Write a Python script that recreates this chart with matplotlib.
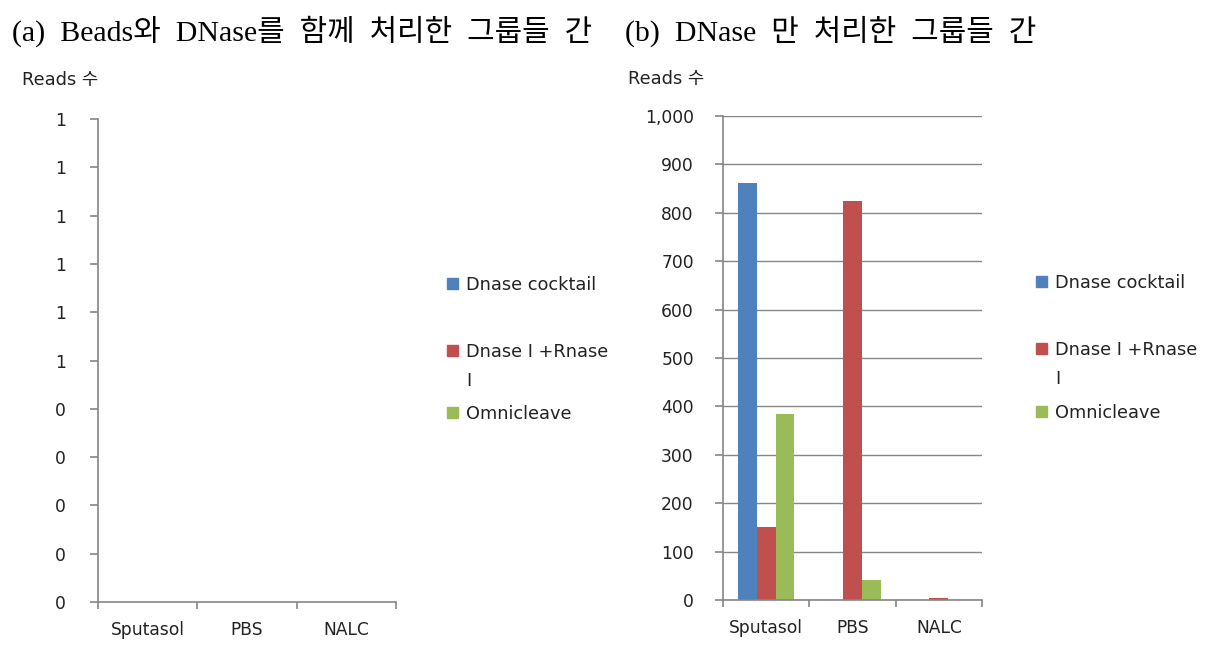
#%% Reads comparison chart (two panels, Excel-style)
import numpy as np
import matplotlib
matplotlib.use("Agg")
import matplotlib.pyplot as plt
from matplotlib.patches import Rectangle
from matplotlib.ticker import FuncFormatter, FixedLocator

#%% Data
categories = ['Sputasol', 'PBS', 'NALC']
series_names = ['Dnase cocktail', 'Dnase I +Rnase\nI', 'Omnicleave']
colors = ['#4F81BD', '#C0504D', '#9BBB59']

# panel (a): no reads shown
a_cocktail = [0, 0, 0]
a_dnase_rnase = [0, 0, 0]
a_omnicleave = [0, 0, 0]

# panel (b)
b_cocktail = [861, 0, 0]
b_dnase_rnase = [150, 825, 5]
b_omnicleave = [384, 41, 0]

a_yticks = [0, 0.1, 0.2, 0.3, 0.4, 0.5, 0.6, 0.7, 0.8, 0.9, 1.0]
b_yticks = [0, 100, 200, 300, 400, 500, 600, 700, 800, 900, 1000]

title_a = '(a)  Beads와  DNase를  함께  처리한  그룹들  간'
title_b = '(b)  DNase  만  처리한  그룹들  간'
ylab = 'Reads 수'

#%% Figure
sans = ['DejaVu Sans', 'Noto Sans CJK KR']
serif = ['Liberation Serif', 'Noto Sans CJK KR']
plt.rcParams['font.family'] = sans
W, H = 1209, 649
fig = plt.figure(figsize=(W / 100, H / 100), dpi=100)
fig.patch.set_facecolor('white')
grey = '#868686'
txt = '#222222'


def px(x0, y0, x1, y1):
    return [x0 / W, 1 - y1 / H, (x1 - x0) / W, (y1 - y0) / H]


def draw_panel(rect, values, yticks, fmt, grid, pad):
    ax = fig.add_axes(rect)
    x = np.arange(len(categories))
    w = 0.217
    for i, vals in enumerate(values):
        ax.bar(x + (i - 1) * w, vals, width=w, color=colors[i], linewidth=0, zorder=3)
    ax.set_xlim(-0.5, len(categories) - 0.5)
    ax.set_ylim(yticks[0], yticks[-1])
    ax.set_yticks(yticks)
    ax.yaxis.set_major_formatter(FuncFormatter(fmt))
    ax.xaxis.set_major_locator(FixedLocator(np.arange(len(categories) + 1) - 0.5))
    ax.xaxis.set_major_formatter(FuncFormatter(lambda v, p: ''))
    ax.xaxis.set_minor_locator(FixedLocator(x))
    ax.set_xticklabels(categories, minor=True)
    ax.tick_params(axis='x', which='minor', length=0, pad=14, labelsize=12.3, labelcolor=txt)
    ax.tick_params(axis='x', which='major', length=5, color=grey, width=1.2)
    ax.tick_params(axis='y', length=6, color=grey, width=1.2, pad=pad, labelsize=12.3,
                   labelcolor=txt)
    for s in ['top', 'right']:
        ax.spines[s].set_visible(False)
    for s in ['left', 'bottom']:
        ax.spines[s].set_color(grey)
        ax.spines[s].set_linewidth(1.2)
        ax.spines[s].set_zorder(4)
    if grid:
        ax.yaxis.grid(True, color=grey, linewidth=1.0, zorder=0)
    ax.set_axisbelow(True)
    return ax


def legend(x0, ys):
    # manual Excel-like legend: square + label
    for name, c, y in zip(series_names, colors, ys):
        fig.patches.append(Rectangle((x0 / W, 1 - (y + 13) / H), 11 / W, 11 / H,
                                     transform=fig.transFigure, color=c, figure=fig))
        fig.text((x0 + 19) / W, 1 - y / H, name, fontsize=12.8, color=txt,
                 va='top', ha='left', linespacing=1.75)


fmt_a = lambda v, p: str(int(np.floor(v + 0.5 + 1e-9)))
fmt_b = lambda v, p: f'{int(round(v)):,}'

draw_panel(px(98, 119, 396, 602), [a_cocktail, a_dnase_rnase, a_omnicleave],
           a_yticks, fmt_a, False, 17)
draw_panel(px(723, 116, 982, 600), [b_cocktail, b_dnase_rnase, b_omnicleave],
           b_yticks, fmt_b, True, 15)

legend(447, [276, 343, 405])
legend(1036, [274, 341, 404])

fig.text(12 / W, 1 - 31 / H, title_a, fontsize=21.5, family=serif, va='center', ha='left')
fig.text(625 / W, 1 - 31 / H, title_b, fontsize=21.5, family=serif, va='center', ha='left')
fig.text(22 / W, 1 - 80 / H, ylab, fontsize=12.8, color=txt, va='center', ha='left')
fig.text(628 / W, 1 - 79 / H, ylab, fontsize=12.8, color=txt, va='center', ha='left')

fig.savefig('out.png', dpi=100)
